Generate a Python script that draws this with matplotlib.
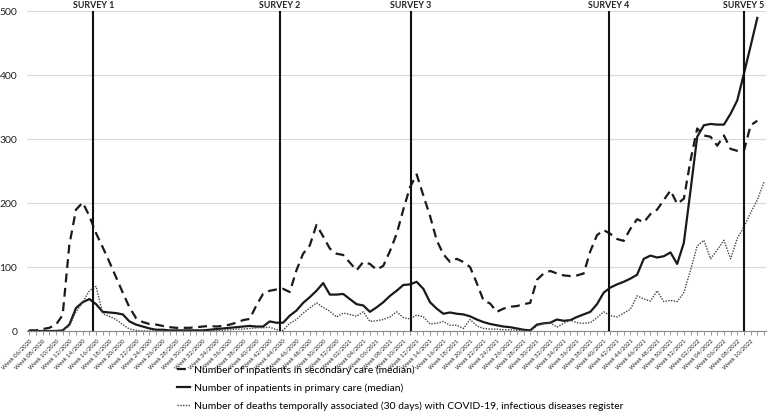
import numpy as np
import matplotlib
matplotlib.use("Agg")
import matplotlib.pyplot as plt

plt.rcParams['font.family'] = ['Lato', 'DejaVu Sans']

# weekly categories, Week 06/2020 .. Week 12/2022
weeks = ([f"Week {w:02d}/2020" for w in range(6, 53)] +
         [f"Week {w:02d}/2021" for w in range(1, 53)] +
         [f"Week {w:02d}/2022" for w in range(1, 13)])

nan = np.nan

secondary = [1, 1, 3, 5, 10, 25, 135, 190, 201, 180,
             153, 131, 108, 84, 60, 37, 20, 14, 11, 10,
             8, 6, 5, 5, 5, 6, 7, 8, 7, 8,
             10, 13, 17, 19, 40, 58, 63, 65, 66, 61,
             95, 121, 134, 166, 148, 129, 121, 119, 107, 95,
             108, 105, 96, 102, 125, 152, 190, 225, 245, 212,
             180, 142, 120, 108, 113, 108, 100, 75, 48, 43,
             30, 35, 38, 39, 42, 44, 80, 90, 94, 90,
             87, 86, 87, 90, 125, 150, 158, 152, 144, 141,
             160, 175, 170, 183, 190, 205, 220, 199, 207, 267,
             317, 306, 304, 290, 306, 285, 282, 282, 322, 329,
             nan]

primary = [0, 0, 0, 0, 0, 1, 10, 36, 45, 50,
           42, 30, 29, 28, 26, 15, 10, 7, 4, 2,
           2, 1, 1, 1, 1, 1, 1, 2, 3, 4,
           5, 6, 7, 8, 7, 7, 15, 13, 13, 24,
           32, 44, 53, 63, 75, 57, 57, 58, 50, 42,
           40, 30, 37, 45, 55, 63, 72, 73, 77, 66,
           45, 35, 27, 29, 27, 26, 23, 18, 14, 11,
           9, 7, 6, 4, 2, 1, 10, 12, 13, 18,
           16, 17, 22, 26, 30, 42, 60, 68, 73, 77,
           82, 88, 113, 118, 115, 117, 123, 105, 138, 220,
           304, 322, 324, 323, 323, 340, 361, 403, 446, 490,
           nan]

deaths = [0, 0, 0, 0, 0, 1, 8, 30, 45, 63,
          70, 27, 23, 18, 10, 3, 1, 0, 0, 0,
          0, 0, 0, 0, 0, 0, 0, 0, 1, 1,
          2, 3, 3, 4, 5, 5, 6, 2, 1, 12,
          18, 28, 36, 44, 37, 31, 22, 28, 26, 23,
          30, 15, 16, 18, 22, 30, 21, 19, 25, 22,
          11, 12, 15, 9, 9, 4, 18, 8, 4, 3,
          3, 2, 2, 1, 1, 0, 8, 12, 13, 6,
          12, 17, 13, 12, 13, 21, 30, 24, 22, 28,
          34, 55, 50, 47, 63, 46, 48, 46, 60, 95,
          133, 142, 113, 127, 142, 113, 145, 163, 185, 205,
          233]

survey_pos = [9.6, 37.5, 57.1, 86.8, 107.0]
survey_labels = ["SURVEY 1", "SURVEY 2", "SURVEY 3", "SURVEY 4", "SURVEY 5"]

x = np.arange(len(weeks))

fig = plt.figure(figsize=(7.69, 4.18), dpi=100)
ax = fig.add_axes([0.0351, 0.2081, 0.9610, 0.7644])

ax.plot(x, secondary, color='#1a1a1a', lw=1.6, dashes=(4, 2.5),
        label='Number of inpatients in secondary care (median)')
ax.plot(x, primary, color='#1a1a1a', lw=1.6,
        label='Number of inpatients in primary care (median)')
ax.plot(x, deaths, color='#444444', lw=1.0, dashes=(1, 1),
        label='Number of deaths temporally associated (30 days) with COVID-19, infectious diseases register')

for p, s in zip(survey_pos, survey_labels):
    ax.axvline(p, color='#111111', lw=1.5, zorder=3)
    ax.text(p, 503, s, ha='center', va='bottom', fontsize=6.4, fontweight='bold',
            color='#222222', clip_on=False)

ax.set_xlim(-0.34, 110.3)
ax.set_ylim(0, 500)
ax.set_yticks(range(0, 501, 100))
ax.yaxis.grid(True, color='#d9d9d9', lw=0.8)
ax.set_axisbelow(True)
ax.tick_params(axis='y', length=0, labelsize=7.5, pad=7, labelcolor='#222222')

ax.set_xticks(range(0, 109, 2))
ax.set_xticklabels(weeks[0:109:2], rotation=45, ha='right',
                   rotation_mode='anchor', fontsize=4.3, color='#222222')
ax.set_xticks(x, minor=True)
ax.tick_params(axis='x', which='both', length=3, width=0.6, color='#888888', pad=2)

for side in ['top', 'right', 'left']:
    ax.spines[side].set_visible(False)
ax.spines['bottom'].set_color('#888888')
ax.spines['bottom'].set_linewidth(0.8)

fig.legend(loc='upper left', bbox_to_anchor=(0.230, 0.126), frameon=False,
           fontsize=7.5, labelspacing=0.8, handlelength=1.3, handletextpad=0.35,
           borderpad=0, borderaxespad=0)

fig.savefig('out.png', dpi=100)
